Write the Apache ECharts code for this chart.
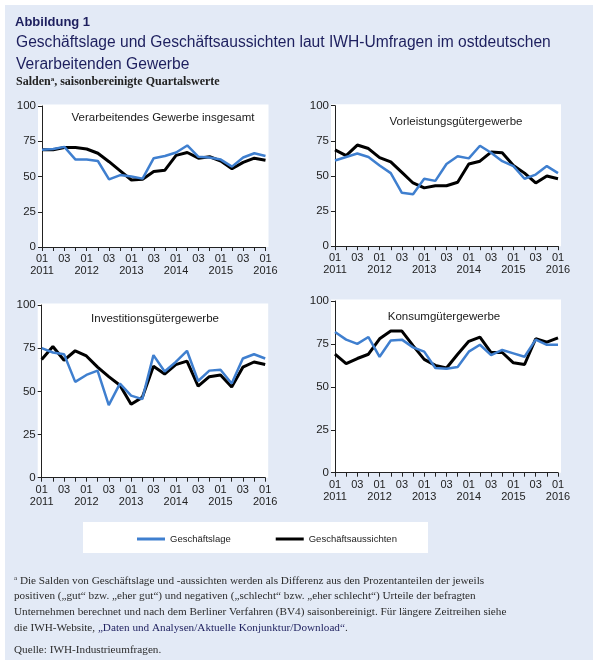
<!DOCTYPE html>
<html><head><meta charset="utf-8">
<script src="https://cdn.jsdelivr.net/npm/echarts@6/dist/echarts.min.js"></script>
<style>html,body{margin:0;padding:0;background:#fff}#c{width:600px;height:665px}</style>
</head><body><div id="c"></div>
<script>
const categories = ["2011Q1","2011Q2","2011Q3","2011Q4","2012Q1","2012Q2","2012Q3","2012Q4","2013Q1","2013Q2","2013Q3","2013Q4","2014Q1","2014Q2","2014Q3","2014Q4","2015Q1","2015Q2","2015Q3","2015Q4","2016Q1"];
const years = ["2011","2012","2013","2014","2015","2016"];
const yTicks = [0,25,50,75,100];
const panelTitles = ["Verarbeitendes Gewerbe insgesamt","Vorleistungsgütergewerbe","Investitionsgütergewerbe","Konsumgütergewerbe"];
const seriesNames = ["Geschäftslage","Geschäftsaussichten"];

const p1Lage = [69, 69.5, 71, 62, 62, 61, 48, 51, 50, 48.5, 63, 64.5, 67, 72, 64, 63.5, 62, 57, 63.5, 66.5, 64.5];
const p1Aus  = [69, 69, 70.5, 70.5, 69.5, 66.5, 60.5, 54, 47.5, 48, 53.5, 54.5, 65, 67, 63, 64, 61, 55.5, 60, 63, 61.5];
const p2Lage = [61, 63.5, 66, 63.5, 57.5, 52, 38, 37, 48, 46.5, 58.5, 64, 62.5, 71.5, 66.5, 60.5, 57, 48, 51, 57, 52];
const p2Aus  = [68.5, 64.5, 72, 69.5, 63, 60, 52.5, 45, 41.5, 43, 43, 45.5, 58.5, 60.5, 67, 66.5, 57.5, 52, 45, 50, 48];
const p3Lage = [75, 72.5, 71.5, 55.5, 59.5, 62, 42, 54.5, 47.5, 45.5, 71, 61.5, 67, 73.5, 56, 62, 62.5, 54.5, 69, 71.5, 69];
const p3Aus  = [68.5, 76, 68, 73.5, 70.5, 64, 58.5, 53.5, 42.5, 46.5, 64.5, 60, 65.5, 67.5, 53, 58.5, 59.5, 52.5, 64, 67, 65.5];
const p4Lage = [82, 77.5, 75, 79, 67.5, 77, 77.5, 73, 70.5, 61, 60.5, 61.5, 70.5, 74.5, 68.5, 71.5, 69.5, 67.5, 77.5, 74.5, 74.5];
const p4Aus  = [69, 63.5, 66.5, 69, 78, 82.5, 82.5, 74, 66, 62.5, 61, 69, 76.5, 79, 70, 70, 64, 63, 78, 76, 78.5];

const lage = [p1Lage, p2Lage, p3Lage, p4Lage];
const aus = [p1Aus, p2Aus, p3Aus, p4Aus];

const BLUE = '#3f7fcf';
const NAVY = '#1d1f5e';
const SANS = 'Liberation Sans, Arial, sans-serif';
const SERIF = 'Liberation Serif, serif';
const FN = '11.2px ' + SERIF;

const grids = [
  {left: 42, top: 106, width: 223.5, height: 141},
  {left: 335, top: 105.7, width: 223, height: 140.5},
  {left: 41.7, top: 305, width: 223.5, height: 172.7},
  {left: 335, top: 301, width: 223, height: 171.7}
];
const titlePos = [[163,118],[456,122],[155,319],[444,317]];

const graphic = [
  {type:'rect', z:-100, shape:{x:5,y:5,width:588,height:655}, style:{fill:'#e3eaf6'}},
  {type:'rect', z:-99, shape:{x:83,y:522,width:345,height:31}, style:{fill:'#fff'}},
  {type:'text', left:15, top:16, style:{text:'Abbildung 1', font:'bold 13px '+SANS, fill:NAVY}},
  {type:'text', left:16, top:35, style:{text:'Geschäftslage und Geschäftsaussichten laut IWH-Umfragen im ostdeutschen', font:'15.6px '+SANS, fill:NAVY}},
  {type:'text', left:16, top:57, style:{text:'Verarbeitenden Gewerbe', font:'15.6px '+SANS, fill:NAVY}},
  {type:'text', left:16, top:76, style:{text:'{b|Salden}{s|a}{b|, saisonbereinigte Quartalswerte}', rich:{
    b:{font:'bold 12px '+SERIF, fill:'#222', verticalAlign:'bottom'},
    s:{font:'bold 7px '+SERIF, fill:'#222', verticalAlign:'top', padding:[0,0,5,0]}}}},
  {type:'text', left:14, top:575, style:{text:'{s|a}{t| Die Salden von Geschäftslage und -aussichten werden als Differenz aus den Prozentanteilen der jeweils}', rich:{
    t:{font:FN, fill:'#2b2b2b', verticalAlign:'bottom'},
    s:{font:'7px '+SERIF, fill:'#2b2b2b', verticalAlign:'top', padding:[0,0,5,0]}}}},
  {type:'text', left:14, top:591, style:{text:'positiven („gut“ bzw. „eher gut“) und negativen („schlecht“ bzw. „eher schlecht“) Urteile der befragten', font:FN, fill:'#2b2b2b'}},
  {type:'text', left:14, top:607, style:{text:'Unternehmen berechnet und nach dem Berliner Verfahren (BV4) saisonbereinigt. Für längere Zeitreihen siehe', font:FN, fill:'#2b2b2b'}},
  {type:'text', left:14, top:623, style:{text:'{t|die IWH-Website, }{l|„Daten und Analysen/Aktuelle Konjunktur/Download“}{t|.}', rich:{
    t:{font:FN, fill:'#2b2b2b'}, l:{font:FN, fill:NAVY}}}},
  {type:'text', left:14, top:645, style:{text:'Quelle: IWH-Industrieumfragen.', font:FN, fill:'#2b2b2b'}}
];
grids.forEach((g,i)=>{
  graphic.push({type:'rect', z:-98, shape:{x:g.left-4, y:g.top-1.5, width:g.width+7, height:g.height+1.5}, style:{fill:'#fff'}});
  graphic.push({type:'text', z:5, x:titlePos[i][0], y:titlePos[i][1], style:{text:panelTitles[i], font:'11.5px '+SANS, fill:'#1a1a1a', align:'center', verticalAlign:'middle'}});
});

const xAxes = [], yAxes = [], series = [];
grids.forEach((g,i)=>{
  xAxes.push({type:'category', gridIndex:i, data:categories, boundaryGap:false,
    axisLine:{lineStyle:{color:'#222', width:1}},
    axisTick:{show:true, interval:0, length:4, lineStyle:{color:'#222'}},
    axisLabel:{interval:0, margin:6, color:'#222', fontFamily:SANS, fontSize:11, lineHeight:12,
      formatter:(v,idx)=> idx%4===0 ? '01\n'+years[idx/4] : (idx%4===2 ? '03\n ' : '')},
    splitLine:{show:false}});
  yAxes.push({type:'value', gridIndex:i, min:yTicks[0], max:yTicks[yTicks.length-1], interval:25,
    axisLine:{show:true, lineStyle:{color:'#222', width:1}},
    axisTick:{show:true, length:4, lineStyle:{color:'#222'}},
    axisLabel:{margin:6, color:'#222', fontFamily:SANS, fontSize:11.5},
    splitLine:{show:false}});
  series.push({name:seriesNames[1], type:'line', xAxisIndex:i, yAxisIndex:i, data:aus[i], symbol:'none',
    lineStyle:{color:'#000', width:3}, itemStyle:{color:'#000'}, animation:false});
  series.push({name:seriesNames[0], type:'line', xAxisIndex:i, yAxisIndex:i, data:lage[i], symbol:'none',
    lineStyle:{color:BLUE, width:2.5}, itemStyle:{color:BLUE}, animation:false});
});

const chart = echarts.init(document.getElementById('c'));
chart.setOption({
  backgroundColor:'#fff',
  animation:false,
  grid: grids.map(g=>Object.assign({containLabel:false}, g)),
  xAxis: xAxes, yAxis: yAxes, series: series, graphic: graphic,
  legend:{data:seriesNames, left:132, top:529, icon:'rect', itemWidth:28, itemHeight:3, itemGap:45,
    textStyle:{fontFamily:SANS, fontSize:9.5, color:'#222'}}
});
</script></body></html>
